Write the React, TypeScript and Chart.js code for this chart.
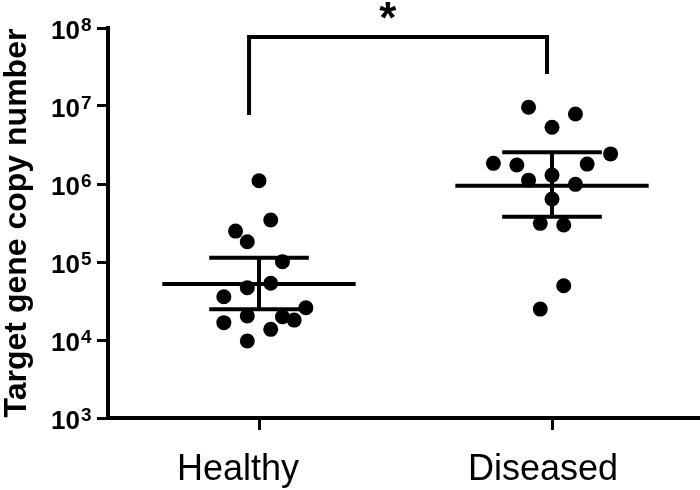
import React, { useEffect, useRef } from "react";
import { Chart, registerables } from "chart.js";
Chart.register(...registerables);

const categories = ["Healthy", "Diseased"];
const healthyValues = [1.1e6, 3.45e5, 2.49e5, 1.82e5, 1.01e5, 4.69e4, 5.33e4, 3.59e4, 2.59e4, 2.03e4, 1.99e4, 1.8e4, 1.67e4, 1.37e4, 9.7e3];
const healthyJitter = [0, 0.04, -0.08, -0.04, 0.08, -0.04, 0.04, -0.12, 0.16, -0.04, 0.08, 0.12, -0.12, 0.04, -0.04];
const diseasedValues = [9.62e6, 7.89e6, 5.33e6, 2.43e6, 1.84e6, 1.75e6, 1.8e6, 1.3e6, 1.12e6, 9.9e5, 6.43e5, 3.13e5, 2.98e5, 4.97e4, 2.49e4];
const diseasedJitter = [-0.08, 0.08, 0, 0.2, -0.2, -0.12, 0.12, 0, -0.08, 0.08, 0, -0.04, 0.04, 0.04, -0.04];
const groupMeans = [5.22e4, 9.5e5];
const groupUpper = [1.135e5, 2.55e6];
const groupLower = [2.48e4, 3.81e5];
const yTickExponents = [3, 4, 5, 6, 7, 8];
const bracketX = [-0.034, 0.983];
const bracketTop = 7.67e7;
const bracketBottoms = [7.67e6, 2.57e7];
const sigLabel = "*";
const sigLabelX = 0.44;
const yTitle = "Target gene copy number";

const FONT = '"Liberation Sans", Arial, Helvetica, sans-serif';
const MEAN_HALF = 0.33;
const CAP_HALF = 0.17;
const X_LABEL_SHIFT = [-21, -9];

const textPlugin = {
  id: "customText",
  afterDraw(chart: any) {
    const ctx = chart.ctx;
    const y = chart.scales.y;
    const x = chart.scales.x;
    ctx.save();
    ctx.fillStyle = "#000";
    ctx.textBaseline = "alphabetic";
    yTickExponents.forEach((p) => {
      const py = y.getPixelForValue(Math.pow(10, p));
      ctx.font = `bold 26px ${FONT}`;
      ctx.textAlign = "right";
      ctx.fillText("10", 80, py + 11);
      ctx.font = `bold 19px ${FONT}`;
      ctx.textAlign = "left";
      ctx.fillText(String(p), 81, py + 3);
    });
    ctx.save();
    ctx.translate(26, (chart.chartArea.top + chart.chartArea.bottom) / 2);
    ctx.rotate(-Math.PI / 2);
    ctx.font = `bold 32px ${FONT}`;
    ctx.textAlign = "center";
    ctx.fillText(yTitle, 0, 0);
    ctx.restore();
    ctx.font = `36px ${FONT}`;
    ctx.textAlign = "center";
    categories.forEach((c, i) => {
      ctx.fillText(c, x.getPixelForValue(i) + X_LABEL_SHIFT[i], 480);
    });
    ctx.font = `bold 44px ${FONT}`;
    ctx.fillText(sigLabel, x.getPixelForValue(sigLabelX), y.getPixelForValue(bracketTop) - 4);
    ctx.restore();
  },
};

function lineDs(data: { x: number; y: number }[]) {
  return {
    type: "line" as const,
    data,
    showLine: true,
    borderColor: "#000",
    borderWidth: 4,
    pointRadius: 0,
    fill: false,
    tension: 0,
    clip: false as any,
  };
}

export default function App() {
  const ref = useRef<HTMLCanvasElement | null>(null);
  useEffect(() => {
    if (!ref.current) return;
    const datasets: any[] = [];
    categories.forEach((_, i) => {
      const m = groupMeans[i];
      datasets.push(lineDs([{ x: i - MEAN_HALF, y: m }, { x: i + MEAN_HALF, y: m }]));
      datasets.push(lineDs([{ x: i, y: groupLower[i] }, { x: i, y: groupUpper[i] }]));
      datasets.push(lineDs([{ x: i - CAP_HALF, y: groupUpper[i] }, { x: i + CAP_HALF, y: groupUpper[i] }]));
      datasets.push(lineDs([{ x: i - CAP_HALF, y: groupLower[i] }, { x: i + CAP_HALF, y: groupLower[i] }]));
    });
    datasets.push(
      lineDs([
        { x: bracketX[0], y: bracketBottoms[0] },
        { x: bracketX[0], y: bracketTop },
        { x: bracketX[1], y: bracketTop },
        { x: bracketX[1], y: bracketBottoms[1] },
      ])
    );
    const pointDs = (vals: number[], jit: number[], c: number) => ({
      type: "scatter" as const,
      data: vals.map((v, k) => ({ x: c + jit[k], y: v })),
      backgroundColor: "#000",
      borderWidth: 0,
      pointRadius: 7.5,
      showLine: false,
      clip: false as any,
    });
    datasets.push(pointDs(healthyValues, healthyJitter, 0));
    datasets.push(pointDs(diseasedValues, diseasedJitter, 1));

    const chart = new Chart(ref.current, {
      type: "scatter",
      data: { datasets },
      plugins: [textPlugin],
      options: {
        animation: false,
        responsive: true,
        maintainAspectRatio: false,
        layout: { autoPadding: false, padding: { top: 28, right: 0, bottom: 0, left: 0 } },
        plugins: { legend: { display: false }, tooltip: { enabled: false }, title: { display: false } },
        scales: {
          x: {
            type: "linear",
            min: -0.5154,
            max: 1.5051,
            afterBuildTicks: (s: any) => {
              s.ticks = [{ value: 0 }, { value: 1 }];
            },
            afterFit: (s: any) => {
              s.height = 72;
            },
            ticks: { display: false },
            grid: { drawOnChartArea: false, drawTicks: true, tickLength: 12, lineWidth: 3, color: "#000" },
            border: { display: true, color: "#000", width: 4 },
          },
          y: {
            type: "logarithmic",
            min: 1e3,
            max: 1e8,
            afterBuildTicks: (s: any) => {
              s.ticks = yTickExponents.map((p) => ({ value: Math.pow(10, p) }));
            },
            afterFit: (s: any) => {
              s.width = 108;
            },
            ticks: { display: false },
            grid: { drawOnChartArea: false, drawTicks: true, tickLength: 11, lineWidth: 3, color: "#000" },
            border: { display: true, color: "#000", width: 4 },
          },
        },
      } as any,
    });
    return () => chart.destroy();
  }, []);
  return (
    <div style={{ position: "fixed", left: 0, top: 0, width: 700, height: 490, background: "#fff" }}>
      <canvas ref={ref} />
    </div>
  );
}
